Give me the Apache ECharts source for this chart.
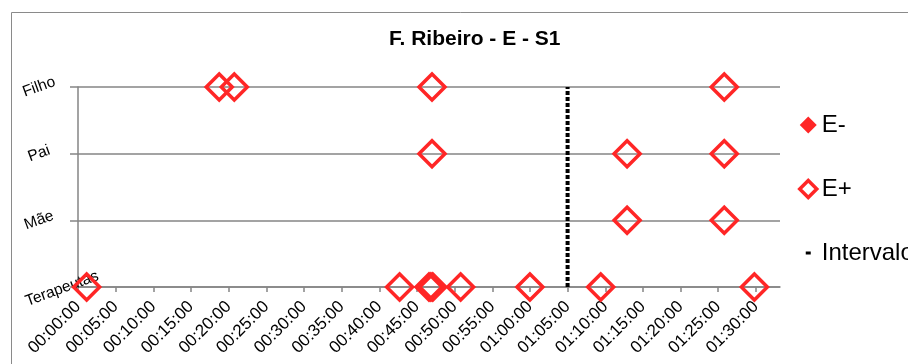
<!DOCTYPE html>
<html>
<head>
<meta charset="utf-8">
<script src="https://cdn.jsdelivr.net/npm/echarts@6/dist/echarts.min.js"></script>
<style>
html,body{margin:0;padding:0;background:#fff;}
#chart{width:908px;height:364px;}
</style>
</head>
<body>
<div id="chart"></div>
<script>
// ---- data ----
const chartTitle = 'F. Ribeiro - E - S1';
const yCategories = ['Terapeutas', 'Mãe', 'Pai', 'Filho'];
const xTickLabels = ['00:00:00','00:05:00','00:10:00','00:15:00','00:20:00','00:25:00','00:30:00',
  '00:35:00','00:40:00','00:45:00','00:50:00','00:55:00','01:00:00','01:05:00','01:10:00',
  '01:15:00','01:20:00','01:25:00','01:30:00'];
const seriesNames = ['E-', 'E+', 'Intervalo'];

// E- : no points visible in the reference
const eMinusTimes = [];
const eMinusRows = [];

// E+
const ePlusTimes = [
  '00:18:45','00:20:45','00:47:00','01:25:48',
  '00:47:00','01:12:54','01:25:48',
  '01:12:54','01:25:48',
  '00:01:09','00:42:42','00:46:36','00:46:51','00:47:06','00:50:48','01:00:00','01:09:24','01:29:48'
];
const ePlusRows = [
  'Filho','Filho','Filho','Filho',
  'Pai','Pai','Pai',
  'Mãe','Mãe',
  'Terapeutas','Terapeutas','Terapeutas','Terapeutas','Terapeutas','Terapeutas','Terapeutas','Terapeutas','Terapeutas'
];

// Intervalo (vertical dotted line)
const intervaloTimes = ['01:05:00', '01:05:00'];
const intervaloRows = ['Terapeutas', 'Filho'];

// ---- helpers ----
function toMinutes(t) {
  const p = t.split(':').map(Number);
  return p[0] * 60 + p[1] + p[2] / 60;
}
function rowIndex(name) { return yCategories.indexOf(name); }
function pairs(times, rows) { return times.map((t, i) => [toMinutes(t), rowIndex(rows[i])]); }

const tickValues = xTickLabels.map(toMinutes);
const red = '#ff2626';
const gray = '#858585';
const font = '"Liberation Sans", Arial, sans-serif';

const chart = echarts.init(document.getElementById('chart'), null, { renderer: 'canvas' });
chart.setOption({
  animation: false,
  backgroundColor: '#fff',
  textStyle: { fontFamily: font },
  graphic: [{
    type: 'rect', silent: true, z: -10,
    shape: { x: 11.5, y: 12.5, width: 1000, height: 1000 },
    style: { fill: 'none', stroke: '#8a8a8a', lineWidth: 1 }
  }],
  title: {
    text: chartTitle,
    left: 389, top: 29, padding: 0,
    textStyle: { fontFamily: font, fontSize: 21, fontWeight: 'bold', color: '#000' }
  },
  legend: {
    orient: 'vertical',
    left: 798, top: 113, padding: 0,
    itemWidth: 17, itemHeight: 17, itemGap: 40,
    textStyle: { fontFamily: font, fontSize: 24, color: '#000' },
    data: [
      { name: seriesNames[0], icon: 'diamond', itemStyle: { color: red, opacity: 1 } },
      { name: seriesNames[1], icon: 'diamond', itemStyle: { borderWidth: 3.5, color: '#fff', borderColor: red, opacity: 1 } },
      { name: seriesNames[2], icon: 'path://M0,0M17,17M6,7L11,7L11,10L6,10Z', itemStyle: { color: '#000', borderWidth: 0, opacity: 1 } }
    ]
  },
  grid: { left: 78, right: 128, top: 87, bottom: 77, containLabel: false },
  xAxis: {
    type: 'value', min: 0, max: 93.2,
    axisLine: { show: true, lineStyle: { color: gray, width: 1.5 } },
    axisTick: { show: true, length: 5, customValues: tickValues, lineStyle: { color: gray, width: 1.5 } },
    splitLine: { show: false },
    axisLabel: {
      customValues: tickValues,
      rotate: 45, margin: 17,
      fontFamily: font, fontSize: 17, color: '#000',
      formatter: (v) => xTickLabels[tickValues.findIndex(t => Math.abs(t - v) < 1e-6)]
    }
  },
  yAxis: {
    type: 'value', min: 0, max: 3, interval: 1,
    axisLine: { show: true, lineStyle: { color: gray, width: 1.5 } },
    axisTick: { show: true, length: 8, lineStyle: { color: gray, width: 1.5 } },
    splitLine: { show: true, lineStyle: { color: gray, width: 1.5 } },
    axisLabel: {
      rotate: 20, margin: 39, align: 'center', verticalAlign: 'middle',
      fontFamily: font, fontSize: 15.5, color: '#000',
      formatter: (v) => v === 0 ? '{t|' + yCategories[v] + '}' : yCategories[v],
      rich: { t: { fontFamily: font, fontSize: 15.5, color: '#000', padding: [19, 0, 0, 42] } }
    }
  },
  series: [
    {
      name: seriesNames[0], type: 'scatter', symbol: 'diamond', symbolSize: 26,
      itemStyle: { color: red, opacity: 1 },
      data: pairs(eMinusTimes, eMinusRows)
    },
    {
      name: seriesNames[1], type: 'scatter', symbol: 'diamond', symbolSize: 26, clip: false,
      itemStyle: { color: 'rgba(255,255,255,0)', borderColor: red, borderWidth: 3.5, opacity: 1 },
      data: pairs(ePlusTimes, ePlusRows)
    },
    {
      name: seriesNames[2], type: 'line', showSymbol: false, symbol: 'none',
      itemStyle: { color: '#000', borderWidth: 0 },
      lineStyle: { color: '#000', width: 4, type: [4, 2], cap: 'butt' },
      data: pairs(intervaloTimes, intervaloRows)
    }
  ]
});
</script>
</body>
</html>
